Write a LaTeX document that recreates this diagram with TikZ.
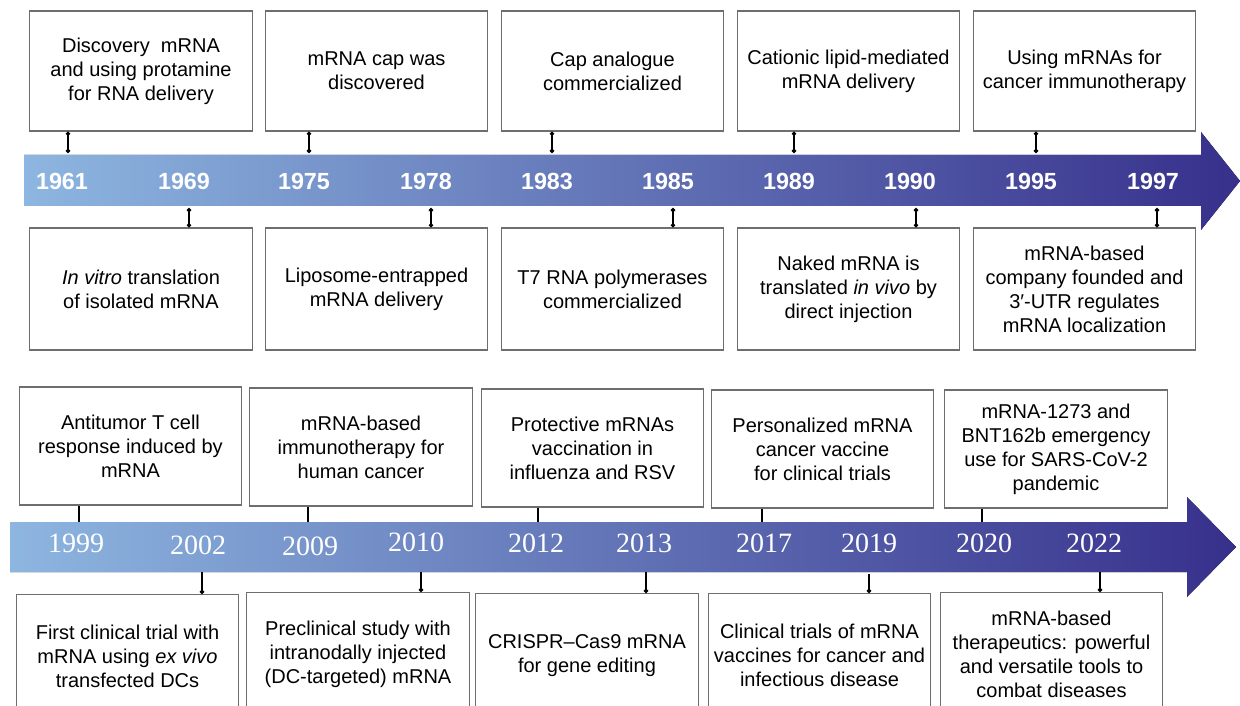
\documentclass[tikz,border=0pt]{standalone}
\usepackage{fontspec}
\setmainfont{Liberation Sans}
\newfontfamily\fuenteanio{Liberation Serif}
\usepackage{tikz}
\usetikzlibrary{positioning, arrows.meta}
\definecolor{azulclaro}{RGB}{141,182,224}
\definecolor{azulmedio}{RGB}{110,142,200}
\definecolor{azuloscuro}{RGB}{55,48,140}
\definecolor{borde}{RGB}{110,110,110}
\tikzstyle{evento} = [draw=borde, line width=0.9pt, fill=white, rectangle, align=center, inner sep=2pt, minimum width=167pt, font=\fontsize{15}{18}\selectfont]
\tikzstyle{anio} = [text=white, inner sep=0pt, font=\bfseries\fontsize{17.5}{20}\selectfont]
\tikzstyle{aniob} = [text=white, inner sep=0pt, font=\fuenteanio\fontsize{21}{24}\selectfont]
\tikzstyle{enlace} = [line width=1.1pt, {Circle[length=3.2pt]}-{Circle[length=3.2pt]}]
\tikzstyle{flecha} = [left color=azulclaro, middle color=azulmedio, right color=azuloscuro]

\begin{document}
\begin{tikzpicture}[x=0.75pt, y=-0.75pt]
	\useasboundingbox (0,0) rectangle (1240,706);
	\clip (0,0) rectangle (1240,706);
	% primera linea de tiempo
	\fill[flecha] (24,155) -- (1201,155) -- (1201,132) -- (1240,181) -- (1201,230) -- (1201,206) -- (24,206) -- cycle;
	\node[anio] (a61) at (62,181) {1961};
	\node[anio] (a69) at (184,181) {1969};
	\node[anio] (a75) at (304,181) {1975};
	\node[anio] (a78) at (426,181) {1978};
	\node[anio] (a83) at (547,181) {1983};
	\node[anio] (a85) at (668,181) {1985};
	\node[anio] (a89) at (789,181) {1989};
	\node[anio] (a90) at (910,181) {1990};
	\node[anio] (a95) at (1031,181) {1995};
	\node[anio] (a97) at (1153,181) {1997};

	\node[evento, minimum height=90pt] (e61) at (141,71) {Discovery\ \ mRNA\\and using protamine\\for RNA delivery};
	\node[evento, minimum height=90pt] (e75) at (376.5,71) {mRNA cap was\\discovered};
	\node[evento, minimum height=90pt] (e83) at (612.5,71) {Cap analogue\\commercialized};
	\node[evento, minimum height=90pt] (e89) at (848.5,71) {Cationic lipid-mediated\\mRNA delivery};
	\node[evento, minimum height=90pt] (e95) at (1084.5,71) {Using mRNAs for\\cancer immunotherapy};

	\node[evento, minimum height=91.5pt] (e69) at (141,289) {\textit{In vitro} translation\\of isolated mRNA};
	\node[evento, minimum height=91.5pt] (e78) at (376.5,289) {Liposome-entrapped\\mRNA delivery};
	\node[evento, minimum height=91.5pt] (e85) at (612.5,289) {T7 RNA polymerases\\commercialized};
	\node[evento, minimum height=91.5pt] (e90) at (848.5,289) {Naked mRNA is\\translated \textit{in vivo} by\\direct injection};
	\node[evento, minimum height=91.5pt] (e97) at (1084.5,289) {mRNA-based\\company founded and\\3′-UTR regulates\\mRNA localization};

	\coordinate (c61) at (68,153);
	\coordinate (c75) at (309,153);
	\coordinate (c83) at (552,153);
	\coordinate (c89) at (794,153);
	\coordinate (c95) at (1036,153);
	\coordinate (c69) at (189,208);
	\coordinate (c78) at (431,208);
	\coordinate (c85) at (673,208);
	\coordinate (c90) at (916,208);
	\coordinate (c97) at (1157,208);
	\draw[enlace] (c61 |- e61.south) -- (c61);
	\draw[enlace] (c75 |- e75.south) -- (c75);
	\draw[enlace] (c83 |- e83.south) -- (c83);
	\draw[enlace] (c89 |- e89.south) -- (c89);
	\draw[enlace] (c95 |- e95.south) -- (c95);
	\draw[enlace] (c69) -- (c69 |- e69.north);
	\draw[enlace] (c78) -- (c78 |- e78.north);
	\draw[enlace] (c85) -- (c85 |- e85.north);
	\draw[enlace] (c90) -- (c90 |- e90.north);
	\draw[enlace] (c97) -- (c97 |- e97.north);

	% segunda linea de tiempo
	\fill[flecha] (10,522) -- (1187,522) -- (1187,497) -- (1236,547) -- (1187,597) -- (1187,572) -- (10,572) -- cycle;
	\node[aniob] (a99) at (76,543) {1999};
	\node[aniob] (a02) at (198,545) {2002};
	\node[aniob] (a09) at (310,546) {2009};
	\node[aniob] (a10) at (416,542) {2010};
	\node[aniob] (a12) at (536,543) {2012};
	\node[aniob] (a13) at (644,543) {2013};
	\node[aniob] (a17) at (764,543) {2017};
	\node[aniob] (a19) at (869,543) {2019};
	\node[aniob] (a20) at (984,543) {2020};
	\node[aniob] (a22) at (1094,543) {2022};

	\node[evento, minimum height=88.5pt] (e99) at (130.5,446) {Antitumor T cell\\response induced by\\mRNA};
	\node[evento, minimum height=88.5pt] (e09) at (361,447) {mRNA-based\\immunotherapy for\\human cancer};
	\node[evento, minimum height=88.5pt] (e12) at (592.5,448) {Protective mRNAs\\vaccination in\\influenza and RSV};
	\node[evento, minimum height=88.5pt] (e17) at (822.5,449) {Personalized mRNA\\cancer vaccine\\for clinical trials};
	\node[evento, minimum height=88.5pt] (e20) at (1056,449) {mRNA-1273 and\\BNT162b emergency\\use for SARS-CoV-2\\pandemic};

	\node[evento, minimum height=93pt, anchor=north] (e02) at (127.5,594) {First clinical trial with\\mRNA using \textit{ex vivo}\\transfected DCs};
	\node[evento, minimum height=93pt, anchor=north] (e10) at (358,592) {Preclinical study with\\intranodally injected\\(DC-targeted) mRNA};
	\node[evento, minimum height=93pt, anchor=north] (e13) at (587,593) {CRISPR--Cas9 mRNA\\for gene editing};
	\node[evento, minimum height=93pt, anchor=north] (e19) at (819.5,593) {Clinical trials of mRNA\\vaccines for cancer and\\infectious disease};
	\node[evento, minimum height=93pt, anchor=north] (e22) at (1051.5,592) {mRNA-based\\therapeutics: powerful\\and versatile tools to\\combat diseases};

	\coordinate (c99) at (79,522);
	\coordinate (c09) at (308,522);
	\coordinate (c12) at (538,522);
	\coordinate (c17) at (762,522);
	\coordinate (c20) at (982,522);
	\coordinate (c02) at (202,572);
	\coordinate (c10) at (421,572);
	\coordinate (c13) at (646,572);
	\coordinate (c19) at (869,574);
	\coordinate (c22) at (1100,572);
	\draw[enlace, -] (c99 |- e99.south) -- (c99);
	\draw[enlace, -] (c09 |- e09.south) -- (c09);
	\draw[enlace, -] (c12 |- e12.south) -- (c12);
	\draw[enlace, -] (c17 |- e17.south) -- (c17);
	\draw[enlace, -] (c20 |- e20.south) -- (c20);
	\draw[enlace, -{Circle[length=3.2pt]}] (c02) -- (c02 |- e02.north);
	\draw[enlace, -{Circle[length=3.2pt]}] (c10) -- (c10 |- e10.north);
	\draw[enlace, -{Circle[length=3.2pt]}] (c13) -- (c13 |- e13.north);
	\draw[enlace, -{Circle[length=3.2pt]}] (c19) -- (c19 |- e19.north);
	\draw[enlace, -{Circle[length=3.2pt]}] (c22) -- (c22 |- e22.north);
\end{tikzpicture}
\end{document}
